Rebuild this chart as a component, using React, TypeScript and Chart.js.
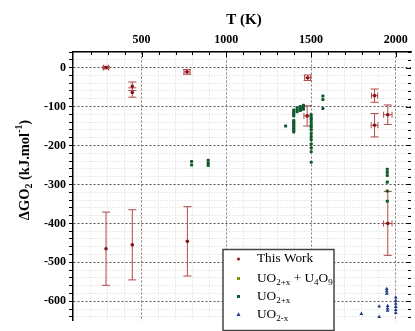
import React, { useEffect, useRef } from "react";
import { Chart, registerables } from "chart.js";

Chart.register(...registerables);

// ---- Axis ranges / ticks ----
const xMin = 95;
const xMax = 2090;
const yMin = -650;
const yMax = 40;
const xMajorLabels = [500, 1000, 1500, 2000];
const xMinorStep = 100;
const xTickStart = 200;
const xTickEnd = 2000;
const yMajorLabels = [0, -100, -200, -300, -400, -500, -600];
const yMinorStep = 20;
const yTickStart = -640;
const yTickEnd = 40;

// ---- This Work (with error bars) ----
const thisWorkT = [290, 445, 445, 768, 1480, 1477, 1875, 1953, 1875, 1953, 290, 445, 770];
const thisWorkG = [0, -48, -64, -11, -26, -124, -148, -121, -72, -400, -465, -455, -446];
const thisWorkGErr = [3, 11, 12, 6, 7, 26, 30, 25, 17, 82, 94, 90, 89];
const thisWorkTErr = [14, 0, 0, 18, 18, 19, 20, 25, 18, 25, 0, 0, 0];

// ---- UO2+x + U4O9 (no visible points in this view) ----
const uo2xU4o9T: number[] = [];
const uo2xU4o9G: number[] = [];

// ---- UO2+x ----
const uo2xT = [
  795, 795,
  893, 893, 893,
  1350,
  1398, 1398, 1398, 1398, 1398, 1398, 1398, 1398, 1398, 1398, 1398, 1398,
  1418, 1418, 1418,
  1437, 1437, 1437,
  1455, 1455, 1455,
  1501, 1501, 1501, 1501, 1501, 1501, 1501, 1501, 1501, 1501, 1501, 1501, 1501, 1501,
  1570, 1570, 1570,
  1950, 1950, 1950, 1950, 1950, 1950,
];
const uo2xG = [
  -241, -250,
  -238, -245, -251,
  -150,
  -109, -114, -119, -124, -136, -140, -144, -148, -152, -157, -161, -165,
  -103, -108, -113,
  -100, -105, -110,
  -97, -102, -107,
  -121, -128, -133, -140, -147, -153, -160, -169, -177, -185, -196, -206, -216, -243,
  -73, -82, -105,
  -261, -269, -277, -294, -317, -343,
];

// ---- UO2-x ----
const uo2mxT = [1947, 1947, 1947, 1902, 1902, 1952, 1952, 1952, 2000, 2000, 2000, 2000, 2000, 2000, 1797];
const uo2mxG = [-568, -574, -580, -613, -640, -612, -618, -624, -590, -598, -606, -614, -622, -630, -632];

const RED = "#8b1414";
const RED_BAR = "#b24848";
const OLIVE = "#8c8c10";
const GREEN = "#0f5a2c";
const BLUE = "#1c3a8a";
const SERIF = "'Liberation Serif', 'Times New Roman', serif";

type Part = { t: string; sub?: boolean; sup?: boolean };

function richWidth(ctx: CanvasRenderingContext2D, parts: Part[], size: number, weight: string) {
  let w = 0;
  for (const p of parts) {
    const s = p.sub || p.sup ? size * 0.68 : size;
    ctx.font = `${weight} ${s}px ${SERIF}`;
    w += ctx.measureText(p.t).width;
  }
  return w;
}

function drawRich(ctx: CanvasRenderingContext2D, parts: Part[], x: number, y: number, size: number, weight: string) {
  let cx = x;
  ctx.textBaseline = "middle";
  ctx.textAlign = "left";
  for (const p of parts) {
    const s = p.sub || p.sup ? size * 0.68 : size;
    ctx.font = `${weight} ${s}px ${SERIF}`;
    const dy = p.sub ? size * 0.3 : p.sup ? -size * 0.35 : 0;
    ctx.fillText(p.t, cx, y + dy);
    cx += ctx.measureText(p.t).width;
  }
}

function xs(n: number[], m: number[]) {
  return n.map((v, i) => ({ x: v, y: m[i] }));
}

const errorBarPlugin = {
  id: "errorBars",
  beforeDatasetsDraw(chart: any) {
    const { ctx, chartArea } = chart;
    const x = chart.scales.x;
    const y = chart.scales.y;
    ctx.save();
    ctx.beginPath();
    ctx.rect(chartArea.left, chartArea.top, chartArea.right - chartArea.left, chartArea.bottom - chartArea.top);
    ctx.clip();
    ctx.strokeStyle = RED_BAR;
    ctx.lineWidth = 1;
    thisWorkT.forEach((t, i) => {
      const g = thisWorkG[i];
      const px = x.getPixelForValue(t);
      const py = y.getPixelForValue(g);
      const ge = thisWorkGErr[i];
      const te = thisWorkTErr[i];
      ctx.beginPath();
      if (ge > 0) {
        const y1 = y.getPixelForValue(g + ge);
        const y2 = y.getPixelForValue(g - ge);
        ctx.moveTo(px, y1); ctx.lineTo(px, y2);
        ctx.moveTo(px - 4, y1); ctx.lineTo(px + 4, y1);
        ctx.moveTo(px - 4, y2); ctx.lineTo(px + 4, y2);
      }
      if (te > 0) {
        const x1 = x.getPixelForValue(t - te);
        const x2 = x.getPixelForValue(t + te);
        ctx.moveTo(x1, py); ctx.lineTo(x2, py);
        ctx.moveTo(x1, py - 3); ctx.lineTo(x1, py + 3);
        ctx.moveTo(x2, py - 3); ctx.lineTo(x2, py + 3);
      }
      ctx.stroke();
    });
    ctx.restore();
  },
};

const decorPlugin = {
  id: "decor",
  afterDraw(chart: any) {
    const { ctx, chartArea } = chart;
    const x = chart.scales.x;
    const y = chart.scales.y;
    ctx.save();
    ctx.fillStyle = "#000";
    ctx.strokeStyle = "#000";
    ctx.lineWidth = 1;
    // inward ticks on top axis
    ctx.beginPath();
    for (let v = xTickStart; v <= xTickEnd; v += xMinorStep) {
      const px = Math.round(x.getPixelForValue(v)) + 0.5;
      const len = v % 500 === 0 ? 5 : 3;
      ctx.moveTo(px, chartArea.top);
      ctx.lineTo(px, chartArea.top + len);
    }
    // inward ticks on right axis
    for (let v = yTickStart; v <= yTickEnd; v += yMinorStep) {
      const py = Math.round(y.getPixelForValue(v)) + 0.5;
      const len = v % 100 === 0 ? 5 : 3;
      ctx.moveTo(chartArea.right, py);
      ctx.lineTo(chartArea.right - len, py);
    }
    ctx.stroke();

    // x title
    ctx.font = `bold 15px ${SERIF}`;
    ctx.textAlign = "center";
    ctx.textBaseline = "middle";
    ctx.fillText("T (K)", 244, 20);

    // y title
    const yParts: Part[] = [
      { t: "\u0394GO" },
      { t: "2", sub: true },
      { t: " (kJ.mol" },
      { t: "-1", sup: true },
      { t: ")" },
    ];
    ctx.save();
    ctx.translate(25, 170);
    ctx.rotate(-Math.PI / 2);
    const w = richWidth(ctx, yParts, 14.5, "bold");
    drawRich(ctx, yParts, -w / 2, 0, 14.5, "bold");
    ctx.restore();

    // legend
    const lx = 223, ly = 249.5, lw = 111, lh = 81;
    ctx.fillStyle = "#fff";
    ctx.fillRect(lx, ly, lw, lh);
    ctx.strokeStyle = "#444";
    ctx.lineWidth = 1.5;
    ctx.strokeRect(lx, ly, lw, lh);
    const mx = 238.5;
    const tx = 257;
    const rows: { y: number; parts: Part[]; color: string; shape: string }[] = [
      { y: 259, parts: [{ t: "This Work" }], color: RED, shape: "circle" },
      { y: 278.5, parts: [{ t: "UO" }, { t: "2+x", sub: true }, { t: " + U" }, { t: "4", sub: true }, { t: "O" }, { t: "9", sub: true }], color: OLIVE, shape: "rect" },
      { y: 296.5, parts: [{ t: "UO" }, { t: "2+x", sub: true }], color: GREEN, shape: "rect" },
      { y: 314.5, parts: [{ t: "UO" }, { t: "2-x", sub: true }], color: BLUE, shape: "tri" },
    ];
    for (const r of rows) {
      ctx.fillStyle = r.color;
      if (r.shape === "circle") {
        ctx.beginPath(); ctx.arc(mx, r.y, 1.5, 0, Math.PI * 2); ctx.fill();
      } else if (r.shape === "rect") {
        ctx.fillRect(mx - 1.5, r.y - 1.5, 3, 3);
      } else {
        ctx.beginPath(); ctx.moveTo(mx, r.y - 2.2); ctx.lineTo(mx + 2, r.y + 1.5); ctx.lineTo(mx - 2, r.y + 1.5); ctx.closePath(); ctx.fill();
      }
      ctx.fillStyle = "#000";
      drawRich(ctx, r.parts, tx, r.y, 13.3, "normal");
    }
    ctx.restore();
  },
};

export default function App() {
  const ref = useRef<HTMLCanvasElement | null>(null);
  useEffect(() => {
    if (!ref.current) return;
    const chart = new Chart(ref.current, {
      type: "scatter",
      data: {
        datasets: [
          {
            label: "UO2+x + U4O9",
            data: xs(uo2xU4o9T, uo2xU4o9G),
            backgroundColor: OLIVE,
            borderColor: OLIVE,
            pointStyle: "rect",
            pointRadius: 1.6,
            borderWidth: 0,
          },
          {
            label: "UO2+x",
            data: xs(uo2xT, uo2xG),
            backgroundColor: GREEN,
            borderColor: GREEN,
            pointStyle: "rectRounded",
            pointRadius: 1.8,
            borderWidth: 0,
          },
          {
            label: "UO2-x",
            data: xs(uo2mxT, uo2mxG),
            backgroundColor: BLUE,
            borderColor: BLUE,
            pointStyle: "triangle",
            pointRadius: 2.2,
            borderWidth: 0,
          },
          {
            label: "This Work",
            data: xs(thisWorkT, thisWorkG),
            backgroundColor: RED,
            borderColor: RED,
            pointStyle: "circle",
            pointRadius: 1.8,
            borderWidth: 0,
          },
        ],
      },
      options: {
        responsive: false,
        animation: false,
        devicePixelRatio: 1,
        layout: { padding: 0 },
        plugins: { legend: { display: false }, tooltip: { enabled: false }, title: { display: false } },
        scales: {
          x: {
            type: "linear",
            position: "top",
            min: xMin,
            max: xMax,
            afterFit: (s: any) => { s.height = 52; },
            afterBuildTicks: (s: any) => {
              const t: { value: number }[] = [];
              for (let v = xTickStart; v <= xTickEnd; v += xMinorStep) t.push({ value: v });
              s.ticks = t;
            },
            ticks: {
              autoSkip: false,
              maxRotation: 0,
              padding: 5,
              color: "#000",
              font: { family: SERIF, weight: "bold", size: 12 },
              callback: (v: any) => (xMajorLabels.includes(Number(v)) ? String(v) : ""),
            },
            grid: {
              drawTicks: false,
              color: (c: any) => (c.tick && c.tick.value % 500 === 0 ? "#7a7a7a" : "#d4d4d4"),
              lineWidth: 1,
            },
            border: {
              display: true,
              color: "#000",
              width: 1.5,
              dash: (c: any) => (c.tick && c.tick.value % 500 === 0 ? [2, 2] : [1, 2]),
            },
          },
          y: {
            type: "linear",
            position: "left",
            min: yMin,
            max: yMax,
            afterFit: (s: any) => { s.width = 73; },
            afterBuildTicks: (s: any) => {
              const t: { value: number }[] = [];
              for (let v = yTickStart; v <= yTickEnd; v += yMinorStep) t.push({ value: v });
              s.ticks = t;
            },
            ticks: {
              autoSkip: false,
              padding: 3,
              color: "#000",
              font: { family: SERIF, weight: "bold", size: 12 },
              callback: (v: any) => (yMajorLabels.includes(Number(v)) ? String(v) : ""),
            },
            grid: {
              drawTicks: true,
              tickLength: 4,
              tickColor: "#000",
              tickWidth: 1,
              tickBorderDash: [],
              color: (c: any) => (c.tick && c.tick.value % 100 === 0 ? "#555" : "#d4d4d4"),
              lineWidth: 1,
            },
            border: {
              display: true,
              color: "#000",
              width: 1.5,
              dash: (c: any) => (c.tick && c.tick.value % 100 === 0 ? [2, 2] : [1, 2]),
            },
          },
        },
      },
      plugins: [errorBarPlugin, decorPlugin],
    } as any);
    return () => chart.destroy();
  }, []);

  return (
    <div style={{ position: "fixed", left: 0, top: 0, width: 415, height: 331, background: "#fff", overflow: "hidden" }}>
      <canvas ref={ref} width={415} height={331} style={{ display: "block" }} />
    </div>
  );
}
